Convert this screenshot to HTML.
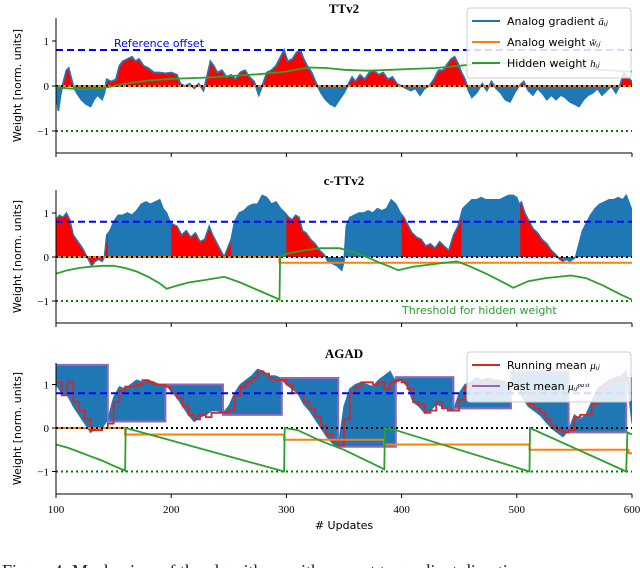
<!DOCTYPE html>
<html><head><meta charset="utf-8"><style>
html,body{margin:0;padding:0;background:#fff;}
svg{display:block;}
</style></head><body>
<svg id="fig" width="640" height="568" viewBox="0 0 640 568" xmlns="http://www.w3.org/2000/svg"></svg>
<script>
// ---------- data ----------
const xTicks = [100,200,300,400,500,600];
const yTicks = [1,0,-1];
const yTickLabels = ["1","0","\u22121"];
const refOffset = 0.8;
const threshold = -1;

// TTv2
const g1x = [100,102,104,106,109,111,113,115,118,122,126,130,133,136,140,142,144,148,152,155,158,162,166,169,172,176,180,185,190,195,200,205,208,212,216,220,224,228,231,234,237,240,244,248,252,256,260,264,268,272,276,279,283,287,291,295,298,301,305,309,312,315,318,322,326,330,334,338,342,346,350,354,357,360,364,368,372,376,380,384,388,392,396,400,404,408,412,416,420,424,428,432,436,440,443,446,449,452,455,458,461,465,470,474,478,482,486,490,494,498,502,506,510,514,518,522,526,530,534,538,542,546,550,554,558,562,566,570,574,578,582,586,590,593,596,600];
const g1y = [-0.1,-0.55,-0.2,0.05,0.35,0.4,0.2,0.0,-0.15,-0.3,-0.4,-0.45,-0.3,-0.2,-0.3,-0.15,0.15,0.1,0.15,0.45,0.55,0.6,0.65,0.55,0.6,0.45,0.4,0.3,0.3,0.28,0.3,0.25,0.05,0.0,0.05,-0.05,0.05,-0.1,0.2,0.55,0.45,0.3,0.35,0.2,0.25,0.15,0.3,0.35,0.2,0.1,-0.2,0.0,0.3,0.35,0.45,0.65,0.8,0.55,0.6,0.75,0.8,0.6,0.45,0.3,0.05,-0.15,-0.3,-0.4,-0.45,-0.3,-0.15,0.05,0.2,0.1,0.25,0.15,0.3,0.35,0.25,0.3,0.15,0.2,0.05,0.0,-0.05,-0.1,-0.05,-0.2,-0.05,0.0,0.15,0.35,0.35,0.5,0.6,0.65,0.5,0.3,0.15,-0.1,-0.25,-0.15,0.05,-0.1,0.1,-0.05,-0.15,-0.3,-0.35,-0.15,0.0,0.1,-0.1,-0.2,-0.05,-0.15,-0.3,-0.2,-0.3,-0.2,-0.25,-0.35,-0.4,-0.45,-0.3,-0.2,-0.15,-0.05,-0.2,-0.1,0.0,-0.15,0.05,0.3,0.2,0.1];
const h1x = [100,110,125,140,150,165,180,200,225,250,275,300,310,320,335,350,370,390,410,430,450,470,490,520,550,580,600];
const h1y = [-0.03,-0.05,-0.08,-0.05,0.0,0.07,0.12,0.16,0.18,0.22,0.26,0.32,0.37,0.41,0.4,0.36,0.34,0.36,0.38,0.4,0.45,0.5,0.52,0.5,0.42,0.35,0.32];
const w1x = [100,600];
const w1y = [0,0];

// c-TTv2
const g2x = [100,103,106,109,112,115,119,123,126,129,131,134,137,140,142,144,147,150,154,158,162,166,170,174,178,182,186,190,193,196,199,201,205,209,213,217,221,225,229,233,236,240,243,246,249,252,255,259,263,267,271,275,279,283,287,291,295,299,302,305,308,311,314,317,321,325,329,333,336,340,344,348,350,352,355,359,363,367,371,375,379,383,387,391,395,399,402,405,409,413,417,421,425,429,433,437,441,445,449,451,453,457,461,465,469,473,477,481,485,489,493,497,500,502,504,507,510,514,518,522,526,530,534,537,540,543,546,549,551,554,557,560,564,568,572,576,580,584,588,592,595,598,600];
const g2y = [0.85,0.95,0.9,1.0,0.85,0.5,0.35,0.2,0.05,-0.1,-0.2,-0.1,-0.05,-0.1,0.0,0.5,0.6,0.8,0.95,0.95,1.0,0.95,1.05,1.2,1.25,1.2,1.25,1.3,1.1,1.0,0.8,0.75,0.7,0.5,0.6,0.45,0.55,0.35,0.4,0.7,0.5,0.3,0.15,0.0,0.2,0.4,0.8,1.0,1.05,1.15,1.2,1.2,1.4,1.35,1.2,1.25,1.1,1.0,0.9,0.85,0.95,0.9,0.6,0.55,0.4,0.3,0.15,0.05,-0.1,-0.15,-0.2,-0.3,-0.1,0.7,0.9,0.95,1.0,1.0,1.05,1.0,1.1,1.05,1.1,1.3,1.2,1.0,0.9,0.75,0.55,0.45,0.4,0.25,0.3,0.2,0.35,0.25,0.15,0.5,0.7,0.9,1.1,1.2,1.3,1.3,1.35,1.3,1.3,1.3,1.3,1.35,1.4,1.4,1.35,1.2,1.25,1.0,0.85,0.65,0.55,0.4,0.3,0.15,0.05,-0.05,-0.1,-0.05,-0.1,-0.05,0.0,0.3,0.6,0.75,0.95,1.1,1.2,1.25,1.3,1.3,1.35,1.3,1.4,1.2,1.05];
const red2Start = [100,200,300,400,503];
const red2End = [145,252,335,452,540];
const h2x = [100,110,120,130,140,150,160,170,180,190,196,205,215,230,246,260,275,290,294,294.5,300,315,330,346,360,370,380,390,397,410,425,448,460,475,490,497,510,525,547,560,575,590,600];
const h2y = [-0.38,-0.3,-0.25,-0.22,-0.2,-0.2,-0.25,-0.33,-0.45,-0.6,-0.72,-0.65,-0.58,-0.52,-0.45,-0.58,-0.75,-0.92,-0.97,0.0,0.07,0.15,0.2,0.2,0.1,0.0,-0.12,-0.22,-0.3,-0.22,-0.17,-0.1,-0.22,-0.4,-0.6,-0.7,-0.55,-0.48,-0.42,-0.48,-0.65,-0.85,-0.97];
const w2x = [100,294,294,600];
const w2y = [0,0,-0.13,-0.13];

// AGAD
const g3x0 = 100, g3step = 5;
const g3y = [1.0,0.8,0.75,0.5,0.3,0.1,-0.1,0.0,0.0,0.2,0.7,0.95,0.9,1.0,1.1,1.05,1.1,1.05,1.0,1.0,0.85,0.7,0.5,0.3,0.15,0.25,0.3,0.4,0.4,0.35,0.5,0.8,1.0,1.1,1.2,1.35,1.3,1.2,1.2,1.15,1.0,0.9,0.8,0.55,0.4,0.2,0.0,-0.2,-0.35,-0.45,0.5,0.9,1.0,1.05,1.0,0.95,1.1,1.2,1.3,1.05,1.1,0.95,0.6,0.5,0.35,0.4,0.55,0.5,0.45,0.4,0.8,1.0,1.05,1.15,1.1,1.15,1.1,1.1,1.05,1.0,0.95,0.7,0.5,0.4,0.3,0.15,0.0,-0.1,-0.2,-0.05,0.3,0.2,0.3,0.6,0.9,1.0,1.1,1.15,1.2,1.3,0.1];
const rm3y = [1.05,0.75,1.05,0.6,0.4,0.2,-0.05,-0.05,0.0,0.1,0.6,0.85,0.95,0.95,1.0,1.1,1.05,1.0,1.0,0.95,0.8,0.7,0.5,0.3,0.2,0.3,0.25,0.35,0.35,0.35,0.4,0.75,0.95,1.05,1.15,1.3,1.25,1.15,1.1,1.1,1.0,0.8,0.8,0.6,0.45,0.25,0.05,-0.15,-0.3,-0.4,0.2,0.8,0.95,1.05,1.05,1.0,1.05,0.9,1.05,1.1,1.05,0.9,0.6,0.55,0.35,0.4,0.6,0.45,0.4,0.4,0.65,0.95,1.0,1.0,1.1,1.05,1.05,1.05,1.0,1.0,0.9,0.8,0.55,0.45,0.35,0.2,0.05,-0.05,-0.1,-0.05,0.25,0.3,0.3,0.55,0.85,1.0,1.05,1.1,1.1,1.15,0.2];
const pmX = [100,145,195,245,296,345,395,445,495,545,595,600];
const pmY = [1.45,0.15,1.0,0.3,1.15,-0.43,1.17,0.45,1.3,-0.1,1.1];
const h3x = [100,110,120,130,140,150,160,160.5,298,298.5,310,330,350,385,385.5,395,511,511.5,595,596,600];
const h3y = [-0.38,-0.45,-0.55,-0.65,-0.75,-0.87,-0.98,0,-1.0,0,-0.05,-0.3,-0.5,-0.95,0,-0.05,-1.0,0,-1.0,-0.1,-0.15];
const w3x = [100,160,160,298,298,385,385,511,511,597,597,600];
const w3y = [0,0,-0.15,-0.15,-0.27,-0.27,-0.38,-0.38,-0.5,-0.5,-0.58,-0.58];

// ---------- drawing ----------
const NS = "http://www.w3.org/2000/svg";
const svg = document.getElementById('fig');
const X0 = 56, X1 = 632;
function sx(u){ return X0 + (u-100)*(X1-X0)/500; }
const panels = [
  {title:"TTv2", zero:86, unit:45, top:18, bottom:153, name:"ttv2"},
  {title:"c-TTv2", zero:257, unit:44, top:190, bottom:323, name:"cttv2"},
  {title:"AGAD", zero:428, unit:43.5, top:363, bottom:494, name:"agad"}
];
function mk(tag, attrs, parent){
  const e = document.createElementNS(NS, tag);
  for (const k in attrs) e.setAttribute(k, attrs[k]);
  (parent||svg).appendChild(e);
  return e;
}
function pts(xs, ys, p){ return xs.map((x,i)=>sx(x).toFixed(1)+","+(p.zero-ys[i]*p.unit).toFixed(1)); }
function linePath(xs, ys, p){ return "M"+pts(xs,ys,p).join("L"); }

panels.forEach((p, pi) => {
  const g = mk('g', {});
  
  
  const cp = mk('clipPath', {id:'clip'+pi}, g);
  mk('rect', {x:X0, y:p.top, width:X1-X0, height:p.bottom-p.top}, cp);
  const d = mk('g', {'clip-path':'url(#clip'+pi+')'}, g);
  
  
  const y = v => p.zero - v*p.unit;

  if (pi === 0) {
    const area = linePath(g1x,g1y,p)+"L"+sx(600)+","+p.zero+"L"+sx(100)+","+p.zero+"Z";
    const a = mk('path', {d:area, fill:'#1f77b4'}, d);
    
    
    const rc = mk('clipPath', {id:'redclip0'}, d);
    mk('rect', {x:X0, y:p.top, width:X1-X0, height:p.zero-p.top}, rc);
    const r = mk('path', {d:area, fill:'#ff0000', 'clip-path':'url(#redclip0)'}, d);
    
    
    const l = mk('path', {d:linePath(g1x,g1y,p), fill:'none', stroke:'#1f77b4', 'stroke-width':1.8}, d);
    
    
  } else if (pi === 1) {
    const area = linePath(g2x,g2y,p)+"L"+sx(600)+","+p.zero+"L"+sx(100)+","+p.zero+"Z";
    const a = mk('path', {d:area, fill:'#1f77b4'}, d);
    
    
    const rc = mk('clipPath', {id:'redclip1'}, d);
    red2Start.forEach((s,i)=>{ mk('rect', {x:sx(s), y:p.top, width:sx(red2End[i])-sx(s), height:p.bottom-p.top}, rc); });
    const r = mk('path', {d:area, fill:'#ff0000', 'clip-path':'url(#redclip1)'}, d);
    
    
    const l = mk('path', {d:linePath(g2x,g2y,p), fill:'none', stroke:'#1f77b4', 'stroke-width':1.5}, d);
    
    
  } else {
    const gx = g3y.map((v,i)=>g3x0+i*g3step);
    // past mean step path backwards
    let back = [];
    for (let i = pmY.length-1; i >= 0; i--) {
      back.push(sx(pmX[i+1]).toFixed(1)+","+y(pmY[i]).toFixed(1));
      back.push(sx(pmX[i]).toFixed(1)+","+y(pmY[i]).toFixed(1));
    }
    const area = linePath(gx,g3y,p)+"L"+back.join("L")+"Z";
    const a = mk('path', {d:area, fill:'#1f77b4'}, d);
    
    
    const l = mk('path', {d:linePath(gx,g3y,p), fill:'none', stroke:'#1f77b4', 'stroke-width':1.2}, d);
    
    
    let pm = [];
    for (let i = 0; i < pmY.length; i++) {
      pm.push(sx(pmX[i]).toFixed(1)+","+y(pmY[i]).toFixed(1));
      pm.push(sx(pmX[i+1]).toFixed(1)+","+y(pmY[i]).toFixed(1));
    }
    const pl = mk('path', {d:"M"+pm.join("L"), fill:'none', stroke:'#9467bd', 'stroke-width':2}, d);
    
    
    let rm = [];
    rm3y.forEach((v,i)=>{
      const xa = sx(gx[i]), xb = sx(Math.min(gx[i]+g3step, 600));
      rm.push(xa.toFixed(1)+","+y(v).toFixed(1));
      rm.push(xb.toFixed(1)+","+y(v).toFixed(1));
    });
    const rl = mk('path', {d:"M"+rm.join("L"), fill:'none', stroke:'#d62728', 'stroke-width':1.8}, d);
    
    
  }
  // reference lines
  const ref = mk('line', {x1:X0, x2:X1, y1:y(refOffset), y2:y(refOffset), stroke:'#0000ff', 'stroke-width':2, 'stroke-dasharray':'7,4'}, d);
  
  
  const wx = [w1x,w2x,w3x][pi], wy = [w1y,w2y,w3y][pi];
  const wl = mk('path', {d:linePath(wx,wy,p), fill:'none', stroke:'#ff7f0e', 'stroke-width':2}, d);
  
  
  const zl = mk('line', {x1:X0, x2:X1, y1:y(0), y2:y(0), stroke:'#000', 'stroke-width':2, 'stroke-dasharray':'2,3'}, d);
  
  
  const tl = mk('line', {x1:X0, x2:X1, y1:y(threshold), y2:y(threshold), stroke:'#008000', 'stroke-width':2, 'stroke-dasharray':'2,3'}, d);
  
  
  const hx = [h1x,h2x,h3x][pi], hy = [h1y,h2y,h3y][pi];
  const hl = mk('path', {d:linePath(hx,hy,p), fill:'none', stroke:'#2ca02c', 'stroke-width':1.8}, d);
  
  

  // axes
  const ax = mk('path', {d:`M${X0},${p.top}V${p.bottom}H${X1}`, fill:'none', stroke:'#000', 'stroke-width':1}, g);
  
  
  xTicks.forEach(t=>{
    const tk = mk('line', {x1:sx(t), x2:sx(t), y1:p.bottom, y2:p.bottom+4, stroke:'#000', 'stroke-width':1}, g);
    
    
    if (pi === 2) {
      const tt = mk('text', {x:sx(t), y:p.bottom+19, 'text-anchor':'middle', 'font-family':'Liberation Serif, serif', 'font-size':11}, g);
      tt.textContent = t;
      
      
    }
  });
  yTicks.forEach((t,i)=>{
    const tk = mk('line', {x1:X0-4, x2:X0, y1:y(t), y2:y(t), stroke:'#000', 'stroke-width':1}, g);
    
    
    const tt = mk('text', {x:X0-7, y:y(t)+4, 'text-anchor':'end', 'font-family':'Liberation Serif, serif', 'font-size':11}, g);
    tt.textContent = yTickLabels[i];
    
    
  });
  const cy = (p.top+p.bottom)/2;
  const yl = mk('text', {x:0, y:0, transform:`translate(21,${cy}) rotate(-90)`, 'text-anchor':'middle', 'font-family':'DejaVu Sans, Liberation Sans, sans-serif', 'font-size':11}, g);
  yl.textContent = "Weight [norm. units]";
  
  
  const ti = mk('text', {x:344, y:p.top-5, 'text-anchor':'middle', 'font-family':'Liberation Serif, serif', 'font-size':13, 'font-weight':'bold'}, g);
  ti.textContent = p.title;
  
  
});

// annotations
const ro = mk('text', {x:114, y:47, 'font-family':'DejaVu Sans, Liberation Sans, sans-serif', 'font-size':11, fill:'#0000ff'});
ro.textContent = "Reference offset";


const th = mk('text', {x:402, y:314, 'font-family':'DejaVu Sans, Liberation Sans, sans-serif', 'font-size':11, fill:'#2ca02c'});
th.textContent = "Threshold for hidden weight";



// legends
function legend(x, y, w, h, entries, name){
  const g = mk('g', {});
  
  
  mk('rect', {x:x, y:y, width:w, height:h, rx:3, fill:'#fff', 'fill-opacity':0.85, stroke:'#ccc', 'stroke-width':1}, g);
  entries.forEach((e,i)=>{
    const ly = y + 13 + i*e.gap;
    const ln = mk('line', {x1:x+5, x2:x+33, y1:ly, y2:ly, stroke:e.color, 'stroke-width':2}, g);
    
    
    const t = mk('text', {x:x+40, y:ly+4, 'font-family':'DejaVu Sans, Liberation Sans, sans-serif', 'font-size':11}, g);
    t.textContent = e.label;
    const s = mk('tspan', {'font-family':'Liberation Serif, serif', 'font-style':'italic', 'font-size':11}, t);
    s.textContent = e.sym;
    
    
  });
}
legend(467, 8, 164, 70, [
  {color:'#1f77b4', label:'Analog gradient ', sym:'ă\u1D62\u2C7C', gap:21},
  {color:'#ff7f0e', label:'Analog weight ', sym:'w̆\u1D62\u2C7C', gap:21},
  {color:'#2ca02c', label:'Hidden weight ', sym:'h\u1D62\u2C7C', gap:21}
], 'legend-top');
legend(467, 352, 164, 50, [
  {color:'#d62728', label:'Running mean ', sym:'μ\u1D62\u2C7C', gap:21},
  {color:'#9467bd', label:'Past mean ', sym:'μ\u1D62\u2C7C\u1D56\u1D43\u02E2\u1D57', gap:21}
], 'legend-bottom');

const xl = mk('text', {x:344, y:529, 'text-anchor':'middle', 'font-family':'DejaVu Sans, Liberation Sans, sans-serif', 'font-size':11});
xl.textContent = "# Updates";


const cap = mk('text', {x:2, y:577, 'font-family':'Liberation Serif, serif', 'font-size':18, fill:'#222'});
cap.textContent = "Figure 4: Mechanism of the algorithms with respect to gradient directions";


</script>
</body></html>
